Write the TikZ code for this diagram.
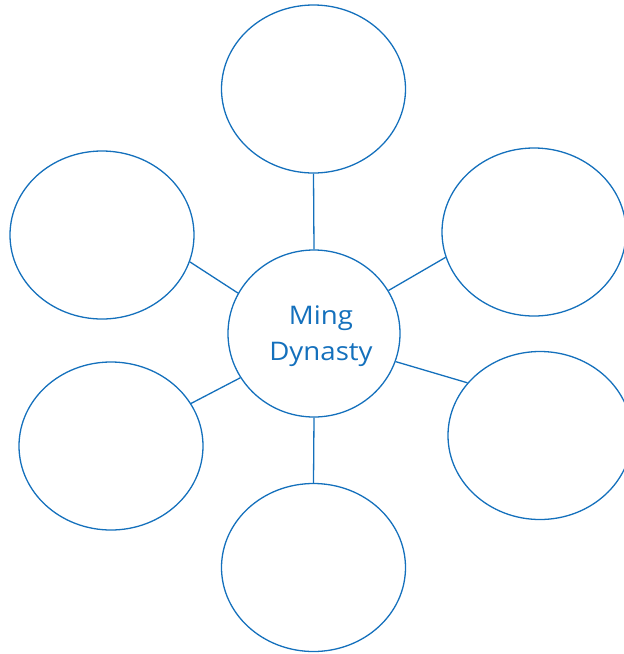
\documentclass[tikz,border=0pt]{standalone}
\usepackage{fontspec}
\setmainfont{Open Sans}[FakeStretch=1.08]
\usetikzlibrary{shapes.geometric}
\definecolor{mingblue}{RGB}{20,112,188}
\begin{document}
\begin{tikzpicture}[x=1pt,y=-1pt,
  bubble/.style={draw=mingblue,line width=1.3pt,ellipse,inner sep=0pt,minimum width=184pt,minimum height=168pt},
  hub/.style={draw=mingblue,line width=1.3pt,ellipse,inner sep=0pt,minimum width=172pt,minimum height=167pt},
  hubtext/.style={text=mingblue,font=\fontsize{25.6}{35}\selectfont,inner sep=0pt,anchor=base},
  link/.style={draw=mingblue,line width=1.3pt}]
\useasboundingbox (0,0) rectangle (624,654);
\begin{scope}
\clip (0,0) rectangle (624,654);
\node[hub] (c) at (314,333.5) {};
\node[hubtext] (ming) at (321,324.3) {Ming};
\node[hubtext] (dyn) at (321,360.7) {Dynasty};
\node[bubble] (t) at (313.5,89) {};
\node[bubble] (lu) at (102,235) {};
\node[bubble] (ru) at (534,232) {};
\node[bubble] (ll) at (111,446) {};
\node[bubble] (rl) at (540,435.5) {};
\node[bubble] (b) at (313.5,567.5) {};
\draw[link] (c.90) -- (t.270);
\draw[link] (c.152) -- (lu.343);
\draw[link] (c.30) -- (ru.196);
\draw[link] (c.211) -- (ll.28);
\draw[link] (c.341) -- (rl.144);
\draw[link] (c.270) -- (b.90);
\end{scope}
\end{tikzpicture}
\end{document}
